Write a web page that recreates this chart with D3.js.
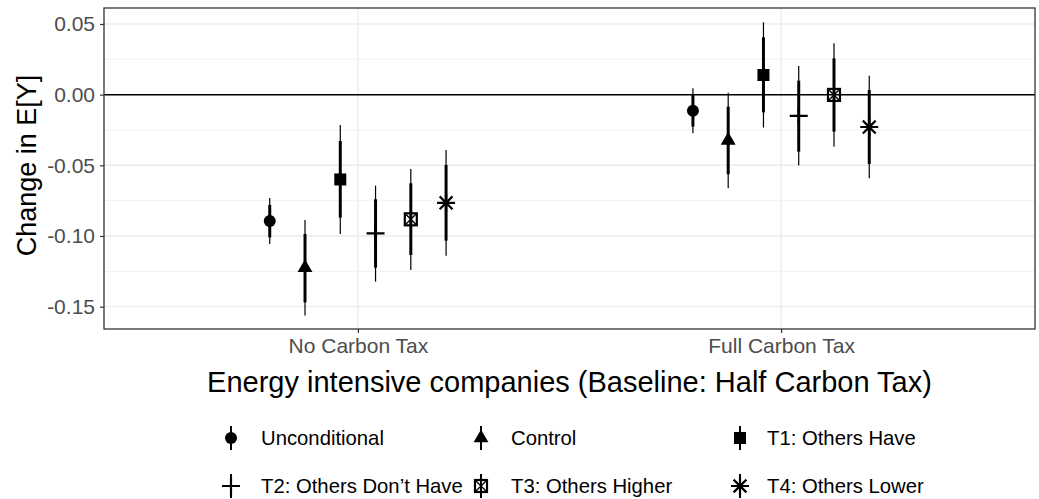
<!DOCTYPE html>
<html>
<head>
<meta charset="utf-8">
<script src="https://cdn.jsdelivr.net/npm/d3@7"></script>
<style>
  html, body { margin: 0; padding: 0; background: #fff; }
  svg { display: block; font-family: "Liberation Sans", Arial, Helvetica, sans-serif; }
</style>
</head>
<body>
<svg id="chart" width="1039" height="499"></svg>
<script>
// Treatment arms (legend order) and the two tax scenarios on the x axis
const series = ["Unconditional", "Control", "T1: Others Have", "T2: Others Don\u2019t Have", "T3: Others Higher", "T4: Others Lower"];
const categories = ["No Carbon Tax", "Full Carbon Tax"];

// Point estimates per scenario, in series order
const estNoTax   = [-0.0894, -0.1225, -0.0600, -0.0982, -0.0882, -0.0765];
const estFullTax = [-0.0114, -0.0324, 0.0139, -0.0150, -0.0002, -0.0229];

// Outer (thin) interval bounds
const lo95NoTax   = [-0.1056, -0.1563, -0.0986, -0.1323, -0.1240, -0.1139];
const hi95NoTax   = [-0.0732, -0.0886, -0.0214, -0.0644, -0.0526, -0.0391];
const lo95FullTax = [-0.0273, -0.0662, -0.0233, -0.0502, -0.0368, -0.0591];
const hi95FullTax = [ 0.0045,  0.0014,  0.0512,  0.0203,  0.0363,  0.0134];

// Inner (thick) interval bounds
const lo90NoTax   = [-0.1010, -0.1469, -0.0870, -0.1224, -0.1134, -0.1033];
const hi90NoTax   = [-0.0780, -0.0986, -0.0328, -0.0740, -0.0627, -0.0497];
const lo90FullTax = [-0.0226, -0.0563, -0.0125, -0.0403, -0.0262, -0.0490];
const hi90FullTax = [-0.0002, -0.0085,  0.0406,  0.0099,  0.0257,  0.0033];

const yTicks = [0.05, 0.00, -0.05, -0.10, -0.15];
const yMinor = [0.025, -0.025, -0.075, -0.125];

// Long-format rows built from the arrays above
const rows = [];
series.forEach((s, i) => {
  rows.push({cat: categories[0], s, i, est: estNoTax[i], lo95: lo95NoTax[i], hi95: hi95NoTax[i], lo90: lo90NoTax[i], hi90: hi90NoTax[i]});
  rows.push({cat: categories[1], s, i, est: estFullTax[i], lo95: lo95FullTax[i], hi95: hi95FullTax[i], lo90: lo90FullTax[i], hi90: hi90FullTax[i]});
});

const panel = {left: 104, right: 1035, top: 8, bottom: 329};
const svg = d3.select("#chart");

const x = d3.scalePoint().domain(categories).range([panel.left, panel.right]).padding(0.6);
const step = x.step();
const dodge = d3.scaleBand().domain(series).range([-0.25 * step, 0.25 * step]);
const xPos = d => x(d.cat) + dodge(d.s) + dodge.bandwidth() / 2;

const y = d3.scaleLinear().domain([-0.1658, 0.0613]).range([panel.bottom, panel.top]);

const gridCol = "#EBEBEB";
const g = svg.append("g");

// Panel background grid
g.selectAll(".minor").data(yMinor).join("line")
  .attr("x1", panel.left).attr("x2", panel.right)
  .attr("y1", d => y(d)).attr("y2", d => y(d))
  .attr("stroke", gridCol).attr("stroke-width", 0.7);
g.selectAll(".major").data(yTicks).join("line")
  .attr("x1", panel.left).attr("x2", panel.right)
  .attr("y1", d => y(d)).attr("y2", d => y(d))
  .attr("stroke", gridCol).attr("stroke-width", 1.4);
g.selectAll(".vmajor").data(categories).join("line")
  .attr("x1", d => x(d)).attr("x2", d => x(d))
  .attr("y1", panel.top).attr("y2", panel.bottom)
  .attr("stroke", gridCol).attr("stroke-width", 1.4);

// Zero reference line
g.append("line")
  .attr("x1", panel.left).attr("x2", panel.right)
  .attr("y1", y(0)).attr("y2", y(0))
  .attr("stroke", "#000").attr("stroke-width", 1.5);

// Marker shapes
function drawShape(sel, idx, cx, cy) {
  const k = sel.append("g").attr("transform", `translate(${cx},${cy})`);
  if (idx === 0) {
    k.append("circle").attr("r", 6).attr("fill", "#000");
  } else if (idx === 1) {
    const r = 8.6, xc = r * 0.866, yc = r * 0.5;
    k.append("path").attr("d", `M0,${-r}L${xc},${yc}L${-xc},${yc}Z`).attr("fill", "#000");
  } else if (idx === 2) {
    k.append("rect").attr("x", -6).attr("y", -6).attr("width", 12).attr("height", 12).attr("fill", "#000");
  } else if (idx === 3) {
    k.append("path").attr("d", "M-9,0H9M0,-9V9").attr("stroke", "#000").attr("stroke-width", 2.2).attr("fill", "none");
  } else if (idx === 4) {
    k.append("rect").attr("x", -6).attr("y", -6).attr("width", 12).attr("height", 12)
      .attr("fill", "none").attr("stroke", "#000").attr("stroke-width", 2.2);
    k.append("path").attr("d", "M-6,-6L6,6M6,-6L-6,6").attr("stroke", "#000").attr("stroke-width", 1.4);
  } else {
    const a = 6.4;
    k.append("path").attr("d", `M-9,0H9M0,-9V9M${-a},${-a}L${a},${a}M${a},${-a}L${-a},${a}`)
      .attr("stroke", "#000").attr("stroke-width", 2.2).attr("fill", "none");
  }
}

// Point ranges: thin outer interval, thick inner interval, then marker
const marks = svg.append("g");
rows.forEach(d => {
  const cx = xPos(d);
  marks.append("line").attr("x1", cx).attr("x2", cx)
    .attr("y1", y(d.lo95)).attr("y2", y(d.hi95))
    .attr("stroke", "#000").attr("stroke-width", 1.2);
  marks.append("line").attr("x1", cx).attr("x2", cx)
    .attr("y1", y(d.lo90)).attr("y2", y(d.hi90))
    .attr("stroke", "#000").attr("stroke-width", 3);
  drawShape(marks, d.i, cx, y(d.est));
});

// Panel border
svg.append("rect")
  .attr("x", panel.left).attr("y", panel.top)
  .attr("width", panel.right - panel.left).attr("height", panel.bottom - panel.top)
  .attr("fill", "none").attr("stroke", "#333333").attr("stroke-width", 1.3);

// Axes
const tickCol = "#4D4D4D";
const yAxis = svg.append("g").attr("transform", `translate(${panel.left},0)`)
  .call(d3.axisLeft(y).tickValues(yTicks).tickFormat(d3.format(".2f")).tickSize(4).tickPadding(5));
yAxis.select(".domain").remove();
yAxis.selectAll(".tick line").attr("stroke", "#333333").attr("stroke-width", 1.2);
yAxis.selectAll(".tick text").attr("fill", tickCol).style("font-size", "21px")
  .text(d => d3.format(".2f")(d).replace("\u2212", "-"));

const xAxis = svg.append("g").attr("transform", `translate(0,${panel.bottom})`)
  .call(d3.axisBottom(x).tickSize(4).tickPadding(5));
xAxis.select(".domain").remove();
xAxis.selectAll(".tick line").attr("stroke", "#333333").attr("stroke-width", 1.2);
xAxis.selectAll(".tick text").attr("fill", tickCol).style("font-size", "21px");

svg.append("text")
  .attr("x", (panel.left + panel.right) / 2).attr("y", 392)
  .attr("text-anchor", "middle").style("font-size", "29px").attr("fill", "#000")
  .text("Energy intensive companies (Baseline: Half Carbon Tax)");

svg.append("text")
  .attr("transform", `translate(36,${(panel.top + panel.bottom) / 2 - 3}) rotate(-90)`)
  .attr("text-anchor", "middle").style("font-size", "27px").attr("fill", "#000")
  .text("Change in E[Y]");

// Legend: three columns, two rows
const legKeyX = [231, 481, 740];
const legTextX = [261, 511, 767];
const legRowY = [438, 486];
const legend = svg.append("g");
series.forEach((s, i) => {
  const col = i % 3, row = Math.floor(i / 3);
  const kx = legKeyX[col], ky = legRowY[row];
  legend.append("line").attr("x1", kx).attr("x2", kx)
    .attr("y1", ky - 12).attr("y2", ky + 12)
    .attr("stroke", "#000").attr("stroke-width", 2);
  drawShape(legend, i, kx, ky);
  legend.append("text").attr("x", legTextX[col]).attr("y", ky)
    .attr("dy", "0.35em").style("font-size", "20.3px").attr("fill", "#000").text(s);
});
</script>
</body>
</html>
